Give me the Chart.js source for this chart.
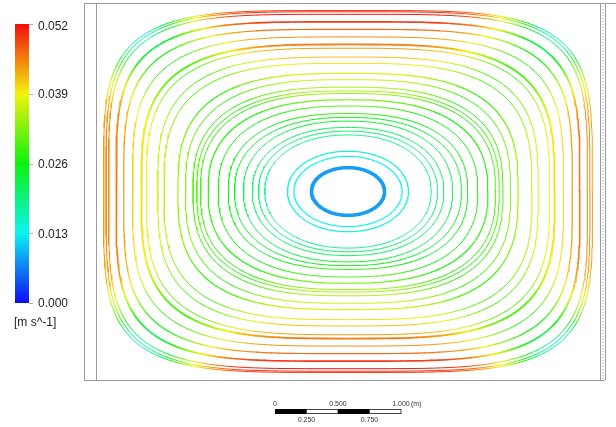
<!DOCTYPE html>
<html lang="en">
<head>
<meta charset="UTF-8">
<title>Velocity streamlines</title>
<script src="https://cdn.jsdelivr.net/npm/chart.js"></script>
<style>
  body { margin: 0; background: #fff; }
  canvas { display: block; }
</style>
</head>
<body>
<canvas id="flowChart" width="616" height="427"></canvas>
<script>
// streamline loops, outermost first. extents in m, speeds in m/s
const halfWidth   = [1.94, 1.92, 1.90, 1.84, 1.78, 1.71, 1.64, 1.60, 1.51, 1.46, 1.35, 1.29, 1.23, 1.20, 1.17, 1.11, 1.03, 0.95, 0.90, 0.83, 0.76, 0.71, 0.66, 0.48, 0.43, 0.29];
const halfHeight  = [1.44, 1.43, 1.41, 1.35, 1.29, 1.23, 1.17, 1.14, 1.07, 1.02, 0.94, 0.89, 0.83, 0.80, 0.78, 0.73, 0.68, 0.62, 0.59, 0.56, 0.51, 0.48, 0.45, 0.32, 0.28, 0.19];
const squareness  = [4.3, 4.25, 4.2, 4.0, 3.8, 3.6, 3.4, 3.3, 3.2, 3.1, 2.9, 2.8, 2.7, 2.65, 2.6, 2.5, 2.45, 2.4, 2.3, 2.25, 2.2, 2.18, 2.15, 2.05, 2.0, 2.0];
const speedTop    = [0.050, 0.051, 0.052, 0.050, 0.047, 0.045, 0.046, 0.044, 0.042, 0.040, 0.038, 0.037, 0.035, 0.035, 0.034, 0.032, 0.030, 0.028, 0.026, 0.024, 0.022, 0.021, 0.019, 0.015, 0.014, 0.008];
const speedSide   = [0.044, 0.045, 0.045, 0.046, 0.044, 0.041, 0.040, 0.039, 0.037, 0.036, 0.034, 0.033, 0.030, 0.030, 0.029, 0.028, 0.027, 0.026, 0.024, 0.022, 0.021, 0.020, 0.018, 0.014, 0.013, 0.008];
const speedCorner = [0.015, 0.016, 0.018, 0.022, 0.026, 0.027, 0.029, 0.029, 0.029, 0.029, 0.028, 0.028, 0.027, 0.027, 0.027, 0.026, 0.025, 0.024, 0.023, 0.021, 0.020, 0.019, 0.018, 0.014, 0.013, 0.008];
const lineWidths  = [1, 1, 1, 1.6, 1.2, 1, 1.8, 1, 1, 1, 1.2, 1, 1, 1, 1, 1.2, 1, 1, 1, 1, 1, 1, 1, 1.2, 1.2, 3.5];

const colorbarLabels = ['0.052', '0.039', '0.026', '0.013', '0.000'];
const scaleBarTicks = [0, 0.25, 0.5, 0.75, 1.0];
const scaleBarLabels = ['0', '0.250', '0.500', '0.750', '1.000'];

const speedMax = 0.052;
const centerX = 2.0, centerY = 1.5;
const steps = 240;

function speedColor(v, light) {
    const t = Math.min(1, Math.max(0, v / speedMax));
    return 'hsl(' + Math.round(240 * (1 - t)) + ', 90%, ' + (light || 52) + '%)';
}

function loopPoints(i) {
    const pts = [];
    const e = 2 / squareness[i];
    for (let k = 0; k <= steps; k++) {
        const t = 2 * Math.PI * k / steps;
        const c = Math.cos(t), s = Math.sin(t);
        const w = Math.pow(Math.abs(Math.sin(2 * t)), 3);
        const base = speedSide[i] * c * c + speedTop[i] * s * s;
        pts.push({
            x: centerX + halfWidth[i] * Math.sign(c) * Math.pow(Math.abs(c), e),
            y: centerY + halfHeight[i] * Math.sign(s) * Math.pow(Math.abs(s), e),
            v: base * (1 - w) + speedCorner[i] * w
        });
    }
    return pts;
}

const datasets = halfWidth.map((_, i) => {
    const pts = loopPoints(i);
    const uniform = speedTop[i] === speedSide[i] && speedSide[i] === speedCorner[i];
    return {
        data: pts,
        showLine: true,
        pointRadius: 0,
        borderWidth: lineWidths[i],
        borderJoinStyle: 'round',
        borderCapStyle: 'round',
        borderColor: speedColor(pts[0].v),
        segment: uniform ? {} : {
            borderColor: c => speedColor((pts[c.p0DataIndex].v + pts[c.p1DataIndex].v) / 2)
        }
    };
});

// frame, colour legend and length scale
const decorations = {
    id: 'decorations',
    afterDraw(chart) {
        const { ctx, chartArea: a, scales: { x } } = chart;
        ctx.save();

        // domain walls
        ctx.strokeStyle = '#9c9c9c';
        ctx.lineWidth = 1;
        const L = Math.round(a.left), R = Math.round(a.right);
        const T = Math.round(a.top), B = Math.round(a.bottom);
        ctx.beginPath();
        ctx.moveTo(L - 12, T + 0.5); ctx.lineTo(616, T + 0.5);
        ctx.moveTo(L - 11.5, T); ctx.lineTo(L - 11.5, B);
        ctx.moveTo(L + 0.5, T); ctx.lineTo(L + 0.5, B);
        ctx.moveTo(L - 12, B + 0.5); ctx.lineTo(R + 5, B + 0.5);
        ctx.moveTo(R + 0.5, T); ctx.lineTo(R + 0.5, B);
        ctx.moveTo(R + 5.5, T); ctx.lineTo(R + 5.5, B);
        ctx.stroke();
        ctx.setLineDash([1, 2]);
        ctx.beginPath();
        ctx.moveTo(R + 3, T); ctx.lineTo(R + 3, B);
        ctx.stroke();
        ctx.setLineDash([]);

        // colour legend
        const barTop = 24, barBottom = 303;
        const grad = ctx.createLinearGradient(0, barBottom, 0, barTop);
        for (let k = 0; k <= 8; k++) grad.addColorStop(k / 8, speedColor(speedMax * k / 8, 50));
        ctx.fillStyle = grad;
        ctx.fillRect(15, barTop, 14, barBottom - barTop);
        ctx.font = '12px "Liberation Sans", Arial, sans-serif';
        ctx.fillStyle = '#1e1e1e';
        ctx.textBaseline = 'middle';
        ctx.textAlign = 'left';
        colorbarLabels.forEach((lab, k) => {
            const ty = barTop + (barBottom - barTop) * k / (colorbarLabels.length - 1);
            ctx.strokeStyle = '#b0b0b0';
            ctx.beginPath();
            ctx.moveTo(29, Math.round(ty) + 0.5); ctx.lineTo(33, Math.round(ty) + 0.5);
            ctx.stroke();
            ctx.fillText(lab, 38, k === 0 ? ty + 3 : ty + 1);
        });
        ctx.fillText('[m s^-1]', 14, 323);

        // length scale
        const x0 = 275, y0 = 409, h = 5;
        const perMetre = x.getPixelForValue(1) - x.getPixelForValue(0);
        for (let k = 0; k < scaleBarTicks.length - 1; k++) {
            const xa = x0 + scaleBarTicks[k] * perMetre;
            const xb = x0 + scaleBarTicks[k + 1] * perMetre;
            if (k % 2 === 0) {
                ctx.fillStyle = '#000';
                ctx.fillRect(xa, y0, xb - xa, h);
            } else {
                ctx.strokeStyle = '#444';
                ctx.strokeRect(xa, y0 + 0.5, xb - xa, h - 1);
            }
        }
        ctx.font = '7px "Liberation Sans", Arial, sans-serif';
        ctx.fillStyle = '#333';
        ctx.textAlign = 'center';
        scaleBarLabels.forEach((lab, k) => {
            const px = x0 + scaleBarTicks[k] * perMetre;
            ctx.fillText(lab, px, k % 2 === 0 ? 404 : 420);
        });
        ctx.textAlign = 'left';
        ctx.fillText('(m)', x0 + perMetre + 10, 404);
        ctx.restore();
    }
};

new Chart(document.getElementById('flowChart'), {
    type: 'scatter',
    data: { datasets },
    options: {
        responsive: false,
        animation: false,
        layout: { padding: { left: 96, right: 16, top: 3, bottom: 47 } },
        plugins: { legend: { display: false }, tooltip: { enabled: false } },
        scales: {
            x: { type: 'linear', min: 0, max: 4, display: false },
            y: { type: 'linear', min: 0, max: 3, display: false }
        }
    },
    plugins: [decorations]
});
</script>
</body>
</html>
